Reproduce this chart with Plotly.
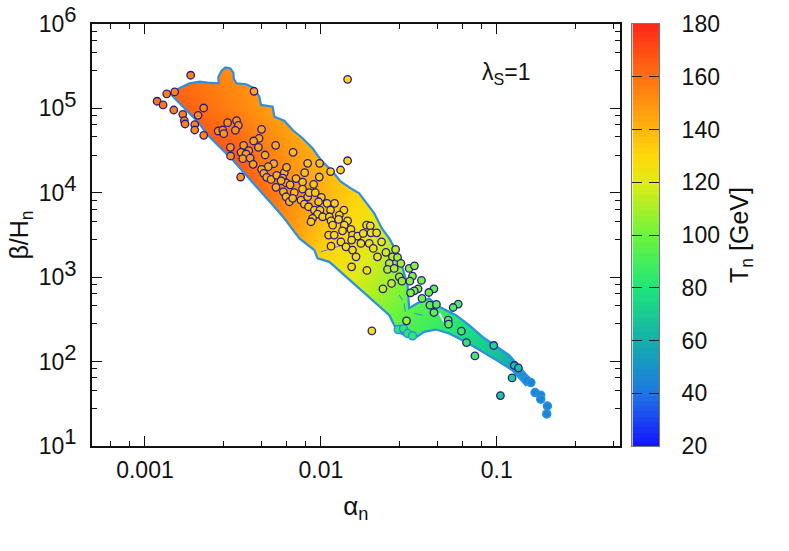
import plotly.graph_objects as go

# colour scale: T [GeV] -> colour
scale_t = [20, 40, 60, 80, 100, 120, 130, 140, 160, 180]
scale_col = ["#1414ff", "#1e78e1", "#14afaa", "#1ee678", "#6ef53c",
             "#e1eb14", "#ffd70a", "#ffb40f", "#ff7010", "#ff2819"]
cbar_t = list(range(20, 181, 2))

# T_n read at a coarse lattice in (log10 alpha, log10 beta/H)
grid_lx = [-3.0, -2.75, -2.5, -2.25, -2.0, -1.75, -1.5, -1.25, -1.0, -0.75]
grid_ly = [1.5, 2.0, 2.5, 3.0, 3.5, 4.0, 4.5, 5.0, 5.5]
grid_t = [
    [100, 95, 90, 85, 80, 75, 70, 66, 55, 36],
    [120, 110, 100, 90, 85, 85, 84, 76, 65, 46],
    [165, 160, 150, 135, 120, 107, 94, 84, 70, 52],
    [170, 168, 158, 145, 128, 117, 102, 88, 74, 56],
    [170, 170, 166, 154, 135, 124, 108, 92, 78, 58],
    [170, 170, 170, 156, 141, 128, 113, 95, 80, 60],
    [170, 170, 166, 152, 139, 130, 112, 95, 80, 60],
    [168, 164, 155, 145, 135, 125, 110, 95, 80, 60],
    [163, 158, 150, 145, 135, 125, 110, 95, 80, 60],
]

# outline of the dense scan region
edge_lx = [-2.849, -2.804, -2.747, -2.690, -2.643, -2.581, -2.583, -2.565, -2.543, -2.514, -2.497, -2.495,
           -2.479, -2.425, -2.378, -2.350, -2.340, -2.274, -2.264, -2.208, -2.160, -2.104,
           -2.047, -1.999, -1.933, -1.886, -1.829, -1.782, -1.753, -1.696, -1.653, -1.611,
           -1.554, -1.526, -1.507, -1.498, -1.452, -1.384, -1.327, -1.232, -1.157, -1.081,
           -0.986, -0.930, -0.854, -0.806, -0.835, -0.911, -0.986, -1.081, -1.176, -1.270,
           -1.346, -1.412, -1.460, -1.498, -1.564, -1.611, -1.687, -1.782, -1.877, -1.952,
           -2.019, -2.037, -2.122, -2.208, -2.274, -2.350, -2.425, -2.501, -2.577, -2.643,
           -2.700, -2.776, -2.832, -2.849]
edge_ly = [5.160, 5.239, 5.298, 5.317, 5.305, 5.298, 5.373, 5.444, 5.485, 5.474, 5.420, 5.349,
           5.298, 5.286, 5.239, 5.139, 5.041, 5.020, 4.902, 4.855, 4.744, 4.646,
           4.527, 4.388, 4.250, 4.131, 4.053, 3.993, 3.914, 3.756, 3.578, 3.460,
           3.242, 3.045, 2.906, 2.633, 2.692, 2.748, 2.649, 2.550, 2.432, 2.293,
           2.155, 2.076, 1.898, 1.779, 1.720, 1.898, 1.996, 2.115, 2.233, 2.333,
           2.380, 2.352, 2.286, 2.293, 2.352, 2.550, 2.689, 2.867, 3.045, 3.182,
           3.223, 3.321, 3.460, 3.697, 3.855, 4.033, 4.210, 4.388, 4.546, 4.685,
           4.843, 5.001, 5.120, 5.160]

# thin streaks inside the region (None separates them)
streak_lx = [-1.999, -1.878, None, -1.554, -1.536, None, -1.526, -1.520, None, -1.469, -1.422]
streak_ly = [3.301, 3.380, None, 2.787, 2.728, None, 2.689, 2.589, None, 2.570, 2.550]
gap_lx = [-1.327, -1.299]
gap_ly = [2.574, 2.471]

# loose points: tail and notch
blob_lx = [-0.829, -0.806, -0.782, -0.750, -0.750, -0.712, -0.716, -1.560, -1.530, -1.507, -1.479]
blob_ly = [1.779, 1.752, 1.633, 1.601, 1.554, 1.474, 1.380, 2.380, 2.388, 2.333, 2.305]
blob_t = [45, 45, 45, 45, 45, 45, 45, 85, 85, 85, 85]

# points with the dark ring
pt_lx = [-2.740, -2.931, -2.897, -2.876, -2.831, -2.836, -2.785, -2.776, -2.772, -2.717,
         -2.717, -2.698, -2.666, -2.666, -2.530, -2.479, -2.469, -2.486, -2.584, -2.558,
         -2.552, -2.337, -2.380, -2.351, -2.382, -2.355, -2.257, -2.158, -2.514, -2.439,
         -2.410, -2.454, -2.425, -2.513, -2.444, -2.402, -2.317, -2.385, -2.268, -2.299,
         -2.456, -2.075, -2.007, -1.848, -1.888, -1.945, -1.848, -2.092, -2.009, -2.041,
         -2.141, -2.104, -2.104, -2.255, -2.337, -2.325, -2.308, -2.283, -2.251, -2.208,
         -2.195, -2.217, -2.198, -2.175, -2.226, -2.213, -2.198, -2.179, -2.151, -2.160,
         -2.113, -2.094, -2.070, -2.075, -2.066, -2.032, -1.997, -2.013, -1.965, -1.922,
         -1.945, -1.869, -2.037, -2.005, -2.019, -1.990, -2.047, -2.056, -1.952, -1.942,
         -1.895, -1.899, -1.848, -1.867, -1.933, -1.877, -1.956, -1.924, -1.829, -1.820,
         -1.791, -1.759, -1.740, -1.719, -1.715, -1.886, -1.825, -1.772, -1.725, -1.683,
         -1.942, -1.857, -1.820, -1.800, -1.702, -1.678, -1.655, -1.825, -1.738, -1.710,
         -1.647, -1.598, -1.513, -1.575, -1.630, -1.593, -1.564, -1.545, -1.611, -1.621,
         -1.583, -1.498, -1.468, -1.554, -1.539, -1.479, -1.494, -1.428, -1.357, -1.386,
         -1.447, -1.469, -1.490, -1.425, -1.380, -1.343, -1.357, -1.219, -1.248, -1.276,
         -1.274, -1.201, -1.172, -1.124, -1.017, -0.900, -0.877, -0.913, -0.979]
pt_ly = [5.393, 5.085, 5.041, 5.171, 5.195, 4.981, 4.930, 4.855, 4.815, 4.807,
         4.744, 4.918, 5.005, 4.681, 4.831, 4.855, 4.800, 4.741, 4.732, 4.744,
         4.700, 4.752, 5.203, 4.646, 4.614, 4.539, 4.563, 4.480, 4.539, 4.563,
         4.499, 4.480, 4.460, 4.436, 4.404, 4.412, 4.448, 4.337, 4.345, 4.309,
         4.187, 4.349, 4.349, 4.380, 4.270, 4.252, 5.345, 4.238, 4.187, 4.100,
         4.169, 4.127, 4.044, 4.065, 4.278, 4.231, 4.183, 4.159, 4.207, 4.238,
         4.302, 4.175, 4.119, 4.095, 4.143, 4.012, 3.953, 3.894, 4.001, 3.934,
         3.914, 3.867, 3.835, 3.953, 4.001, 4.001, 3.946, 3.894, 3.875, 3.875,
         3.795, 3.795, 3.795, 3.795, 3.748, 3.716, 3.697, 3.657, 3.716, 3.668,
         3.736, 3.685, 3.668, 3.617, 3.617, 3.550, 3.499, 3.499, 3.566, 3.499,
         3.487, 3.519, 3.617, 3.609, 3.526, 3.419, 3.440, 3.400, 3.400, 3.526,
         3.368, 3.360, 3.321, 3.242, 3.341, 3.242, 3.419, 3.123, 3.080, 2.364,
         2.862, 2.926, 2.483, 3.329, 3.294, 3.242, 3.234, 3.163, 3.163, 3.092,
         3.104, 3.104, 3.135, 3.004, 2.953, 3.013, 2.953, 2.962, 2.862, 2.819,
         2.862, 2.838, 2.815, 2.748, 2.669, 2.677, 2.582, 2.681, 2.641, 2.491,
         2.443, 2.360, 2.226, 2.067, 2.191, 1.954, 1.925, 1.806, 1.598]
pt_t = [155, 158, 158, 155, 155, 155, 155, 155, 155, 153,
        153, 153, 153, 153, 150, 150, 150, 150, 150, 150,
        150, 145, 145, 145, 145, 145, 142, 138, 150, 147,
        147, 147, 147, 150, 147, 147, 143, 145, 142, 142,
        148, 135, 135, 130, 130, 132, 130, 136, 134, 134,
        138, 136, 136, 141, 143, 143, 143, 142, 141, 140,
        140, 140, 140, 139, 140, 139, 139, 138, 138, 138,
        136, 136, 135, 135, 135, 134, 134, 134, 132, 131,
        131, 129, 133, 133, 133, 132, 133, 133, 131, 131,
        130, 130, 128, 129, 131, 128, 131, 130, 128, 127,
        126, 125, 125, 125, 125, 129, 127, 125, 124, 124,
        131, 128, 127, 126, 123, 122, 122, 127, 125, 125,
        115, 115, 108, 112, 118, 112, 110, 110, 112, 112,
        112, 105, 104, 108, 108, 104, 104, 100, 95, 98,
        102, 102, 103, 100, 95, 95, 96, 92, 92, 95,
        95, 88, 85, 88, 75, 68, 68, 72, 70]

# axis ticks
x_major = [0.001, 0.01, 0.1]
x_labels = ["0.001", "0.01", "0.1"]
y_major = [10, 100, 1000, 1e4, 1e5, 1e6]
y_exps = [1, 2, 3, 4, 5, 6]
y_labels = [f"10<sup><span style='font-size:22px'>{e}</span></sup>" for e in y_exps]
x_minor = [m * d for d in (1e-4, 1e-3, 1e-2, 1e-1) for m in (1.0, 2.8, 4.6, 6.4, 8.2) if 5e-4 < m * d < 0.5]
y_minor = [m * d for d in (10, 100, 1000, 1e4, 1e5) for m in (2.8, 4.6, 6.4, 8.2)]

X_RANGE = [-3.301, -0.301]
Y_RANGE = [1, 6]
FONT = "Liberation Sans"
INK = "#111111"
OUTLINE = "#2a8fe6"
RING = "#2a1a8c"


def ten(values):
    return [None if v is None else 10 ** v for v in values]


fig = go.Figure()

fig.add_trace(go.Heatmap(x=ten(grid_lx), y=ten(grid_ly), z=grid_t, zsmooth="best",
                         coloraxis="coloraxis", hoverinfo="skip"))

# white cover around the region, with a zero-width seam into the outline
mask_x = [10 ** X_RANGE[0], 10 ** X_RANGE[1], 10 ** X_RANGE[1], 10 ** X_RANGE[0], 10 ** X_RANGE[0]] + ten(edge_lx) + [10 ** X_RANGE[0]]
mask_y = [10 ** Y_RANGE[0], 10 ** Y_RANGE[0], 10 ** Y_RANGE[1], 10 ** Y_RANGE[1], 10 ** Y_RANGE[0]] + ten(edge_ly) + [10 ** Y_RANGE[0]]
fig.add_trace(go.Scatter(x=mask_x, y=mask_y, mode="lines", fill="toself", fillcolor="white",
                         line=dict(width=0), hoverinfo="skip"))
fig.add_trace(go.Scatter(x=ten(edge_lx), y=ten(edge_ly), mode="lines",
                         line=dict(color=OUTLINE, width=2.2), hoverinfo="skip"))
fig.add_trace(go.Scatter(x=ten(streak_lx), y=ten(streak_ly), mode="lines",
                         line=dict(color=OUTLINE, width=1), hoverinfo="skip"))
fig.add_trace(go.Scatter(x=ten(gap_lx), y=ten(gap_ly), mode="lines",
                         line=dict(color="white", width=2), hoverinfo="skip"))
fig.add_trace(go.Scatter(x=ten(blob_lx), y=ten(blob_ly), mode="markers",
                         marker=dict(size=8, color=blob_t, coloraxis="coloraxis",
                                     line=dict(color=OUTLINE, width=1.5))))
fig.add_trace(go.Scatter(x=ten(pt_lx), y=ten(pt_ly), mode="markers",
                         marker=dict(size=7.5, color=pt_t, coloraxis="coloraxis",
                                     line=dict(color=RING, width=1.3))))

# colour bar drawn as its own small axes so the ticks can sit on both sides
fig.add_trace(go.Heatmap(x=[0], y=cbar_t, z=[[t] for t in cbar_t], coloraxis="coloraxis",
                         xaxis="x2", yaxis="y2", hoverinfo="skip"))

fig.update_layout(
    width=789, height=551,
    margin=dict(l=92.3, r=129.7, t=24, b=105.3),
    paper_bgcolor="white", plot_bgcolor="white",
    showlegend=False,
    font=dict(family=FONT, size=23, color=INK),
    coloraxis=dict(cmin=20, cmax=180, showscale=False,
                   colorscale=[[(t - 20) / 160, c] for t, c in zip(scale_t, scale_col)]),
    xaxis=dict(type="log", range=X_RANGE, domain=[0, 0.9307], automargin=False,
               title=dict(text="α<sub>n</sub>", standoff=14, font=dict(size=26)),
               tickvals=x_major, ticktext=x_labels, ticks="inside", ticklen=10, tickwidth=1,
               tickcolor=INK, showline=True, linecolor=INK, linewidth=1.6, mirror="ticks",
               showgrid=False, zeroline=False, ticklabelstandoff=3,
               minor=dict(tickvals=x_minor, ticks="inside", ticklen=5, tickwidth=1, tickcolor=INK, showgrid=False)),
    yaxis=dict(type="log", range=Y_RANGE, automargin=False,
               title=dict(text="β/H<sub>n</sub>", standoff=3, font=dict(size=25)),
               tickvals=y_major, ticktext=y_labels, ticks="inside", ticklen=10, tickwidth=1,
               tickcolor=INK, showline=True, linecolor=INK, linewidth=1.6, mirror="ticks",
               showgrid=False, zeroline=False, ticklabelstandoff=9,
               minor=dict(tickvals=y_minor, ticks="inside", ticklen=5, tickwidth=1, tickcolor=INK, showgrid=False)),
    xaxis2=dict(domain=[0.9531, 1], range=[-0.5, 0.5], anchor="y2", showticklabels=False, ticks="", automargin=False,
                showline=True, linecolor="#777777", linewidth=1, mirror=True, showgrid=False, zeroline=False),
    yaxis2=dict(domain=[0, 1], range=[20, 180], anchor="x2", side="right", dtick=20, ticks="inside", ticklen=10,
                tickwidth=1, tickcolor="#222222", showline=True, linecolor="#777777", linewidth=1, mirror="ticks",
                showgrid=False, zeroline=False, ticklabelstandoff=17, automargin=False,
                title=dict(text="T<sub>n</sub> [GeV]", standoff=11, font=dict(size=25))),
    annotations=[dict(x=-0.947, y=5.41, xref="x", yref="y", text="λ<sub>S</sub>=1", showarrow=False,
                      font=dict(family=FONT, size=23, color=INK))],
)

fig.write_html("out.html", config={"displayModeBar": False}, post_script="document.body.style.margin='0';")
